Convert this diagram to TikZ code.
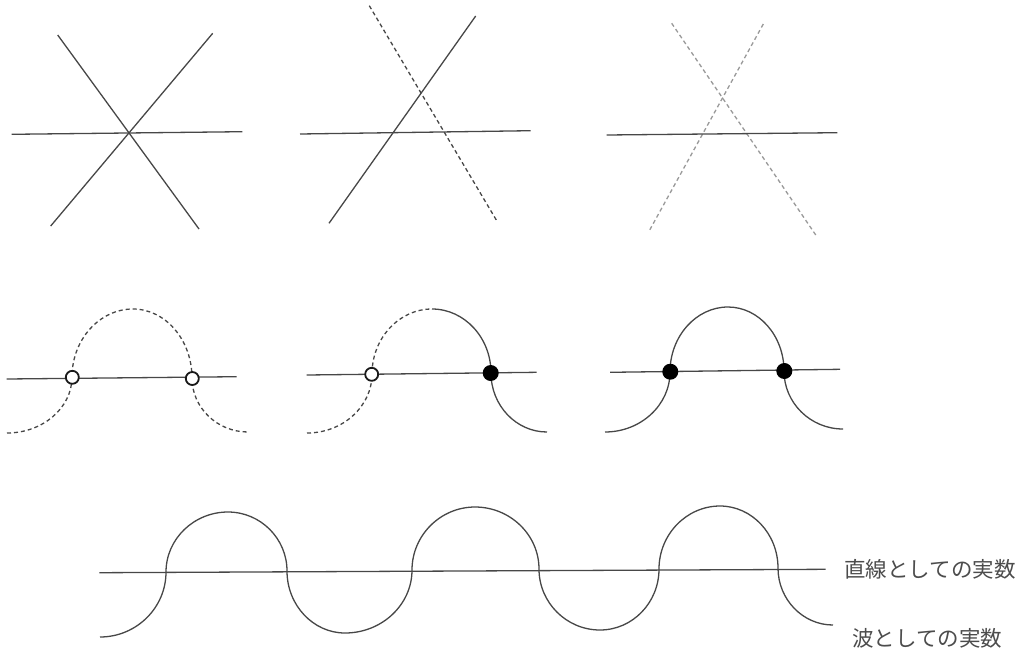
\documentclass[tikz,border=0pt]{standalone}
\usepackage{fontspec}
\newfontfamily\jpfont{Noto Sans CJK JP}
\begin{document}
\begin{tikzpicture}[x=1pt,y=-1pt,
  ln/.style={draw=black!72,line width=1.3pt},
  dsh/.style={ln,dash pattern=on 4pt off 3pt},
  lightdsh/.style={draw=black!40,line width=1.3pt,dash pattern=on 4pt off 3pt},
  opendot/.style={circle,draw=black!90,fill=white,line width=1.8pt,minimum size=13pt,inner sep=0pt},
  fulldot/.style={circle,fill=black,minimum size=16pt,inner sep=0pt},
  lbl/.style={anchor=west,font=\jpfont\fontsize{21.5}{24}\selectfont,text=black!70,inner sep=0pt}]
\useasboundingbox (0,0) rectangle (1030,651);

% ---- top row, star 1
\coordinate (a1) at (57.7,35);   \coordinate (a2) at (199,229);
\coordinate (b1) at (212.7,33.3);\coordinate (b2) at (50.7,226);
\coordinate (h1) at (11.7,134.3);\coordinate (h2) at (242.3,131.7);
\draw[ln] (a1) -- (a2);
\draw[ln] (b1) -- (b2);
\draw[ln] (h1) -- (h2);

% ---- top row, star 2
\coordinate (c1) at (369.3,5.7);  \coordinate (c2) at (497.3,221.7);
\coordinate (d1) at (475.7,16);   \coordinate (d2) at (329,223.3);
\coordinate (i1) at (300,134);    \coordinate (i2) at (530.7,130.7);
\draw[dsh] (c1) -- (c2);
\draw[ln] (d1) -- (d2);
\draw[ln] (i1) -- (i2);

% ---- top row, star 3
\coordinate (e1) at (671.7,23.3); \coordinate (e2) at (817.3,237.3);
\coordinate (f1) at (763.3,24);   \coordinate (f2) at (649.3,230.7);
\coordinate (j1) at (606.7,135);  \coordinate (j2) at (837.3,132.7);
\draw[lightdsh] (e1) -- (e2);
\draw[lightdsh] (f1) -- (f2);
\draw[ln] (j1) -- (j2);

% ---- middle row 1
\coordinate (k1) at (6.7,379); \coordinate (k2) at (236.7,376.7);
\draw[ln] (k1) -- (k2);
\draw[dsh] (7,433) .. controls (42.8,433) and (72,407.8) .. (72,377)
  .. controls (72,339.6) and (99.5,309) .. (133,309)
  .. controls (165.5,309) and (192,340) .. (192,378)
  .. controls (192,407.7) and (217.2,432) .. (248,432);
\node[opendot] (o1) at (72.3,377.3) {};
\node[opendot] (o2) at (192.3,378.5) {};

% ---- middle row 2
\coordinate (m1) at (306.7,375); \coordinate (m2) at (536.7,372.3);
\draw[ln] (m1) -- (m2);
\draw[dsh] (307,433) .. controls (342.8,433) and (372,406.5) .. (372,374)
  .. controls (372,338.3) and (399,309) .. (432,309);
\draw[ln] (432,309) .. controls (464.5,309) and (491,337.8) .. (491,373)
  .. controls (491,405.5) and (516.2,432) .. (547,432);
\node[opendot] (o3) at (371.7,374.3) {};
\node[fulldot] (p1) at (490.7,373) {};

% ---- middle row 3
\coordinate (n1) at (610,372.3); \coordinate (n2) at (840,369.3);
\draw[ln] (n1) -- (n2);
\draw[ln] (605,432) .. controls (640.8,432) and (670,405) .. (670,372)
  .. controls (670,336.3) and (696.1,307) .. (728,307)
  .. controls (758.8,307) and (784,335.8) .. (784,371)
  .. controls (784,402.9) and (810.5,429) .. (843,429);
\node[fulldot] (p2) at (670.3,371.7) {};
\node[fulldot] (p3) at (784.3,371) {};

% ---- bottom wave
\coordinate (r1) at (99.3,572.7); \coordinate (r2) at (825.7,569.3);
\draw[ln] (r1) -- (r2);
\draw[ln] (100,637) .. controls (136.3,637) and (166,607.8) .. (166,572)
  .. controls (166,539) and (193.9,512) .. (228,512)
  .. controls (260.5,512) and (287,538.5) .. (287,571)
  .. controls (287,605.1) and (313.1,633) .. (345,633)
  .. controls (381.9,633) and (412,604.7) .. (412,570)
  .. controls (412,535.4) and (440.4,507) .. (475,507)
  .. controls (510.2,507) and (539,534.9) .. (539,569)
  .. controls (539,602.6) and (566.5,630) .. (600,630)
  .. controls (632.5,630) and (659,602.6) .. (659,569)
  .. controls (659,534.4) and (686.5,506) .. (720,506)
  .. controls (751.9,506) and (778,533.9) .. (778,568)
  .. controls (778,599.4) and (802.8,625) .. (833,625);
\node[lbl] (t1) at (844,569) {直線としての実数};
\node[lbl] (t2) at (852,638) {波としての実数};
\end{tikzpicture}
\end{document}
